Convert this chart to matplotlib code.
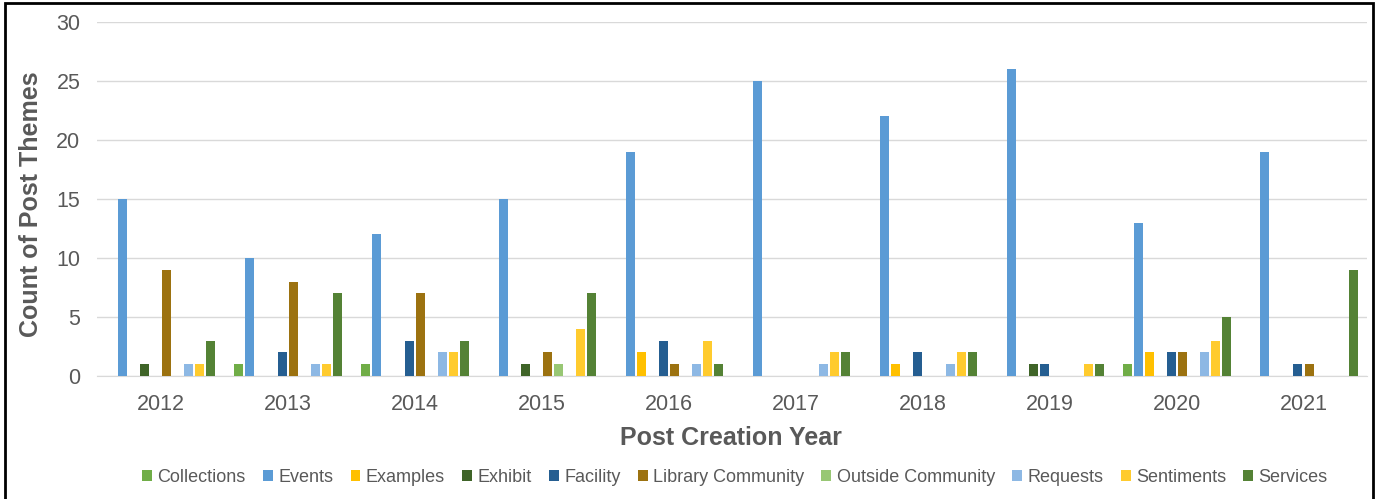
import matplotlib

matplotlib.use("Agg")
import matplotlib.pyplot as plt
import numpy as np
from matplotlib.patches import Rectangle

plt.rcParams["font.family"] = ["Liberation Sans", "DejaVu Sans"]

years = ["2012", "2013", "2014", "2015", "2016", "2017", "2018", "2019", "2020", "2021"]
themes = [
    "Collections", "Events", "Examples", "Exhibit", "Facility",
    "Library Community", "Outside Community", "Requests", "Sentiments", "Services",
]

collections = [0, 1, 1, 0, 0, 0, 0, 0, 1, 0]
events = [15, 10, 12, 15, 19, 25, 22, 26, 13, 19]
examples = [0, 0, 0, 0, 2, 0, 1, 0, 2, 0]
exhibit = [1, 0, 0, 1, 0, 0, 0, 1, 0, 0]
facility = [0, 2, 3, 0, 3, 0, 2, 1, 2, 1]
library_community = [9, 8, 7, 2, 1, 0, 0, 0, 2, 1]
outside_community = [0, 0, 0, 1, 0, 0, 0, 0, 0, 0]
requests = [1, 1, 2, 0, 1, 1, 1, 0, 2, 0]
sentiments = [1, 1, 2, 4, 3, 2, 2, 1, 3, 0]
services = [3, 7, 3, 7, 1, 2, 2, 1, 5, 9]

series = [collections, events, examples, exhibit, facility,
          library_community, outside_community, requests, sentiments, services]
colors = ["#70AD47", "#5B9BD5", "#FFC000", "#3F6428", "#255E91",
          "#9C7210", "#98C774", "#8DB8E4", "#FFCB2E", "#548235"]

fig = plt.figure(figsize=(13.8, 4.99), dpi=100)
ax = fig.add_axes([97 / 1380, 123 / 499, 1270 / 1380, 354 / 499])

x = np.arange(len(years))
slot = 11 / 127
bw = 9 / 127
for i, (vals, c) in enumerate(zip(series, colors)):
    ax.bar(x + (i - 4.5) * slot, vals, width=bw, color=c, label=themes[i], zorder=3)

ax.set_xlim(-0.5, len(years) - 0.5)
ax.set_ylim(0, 30)
ax.set_yticks(range(0, 31, 5))
ax.set_xticks(x)
ax.set_xticklabels(years)
ax.tick_params(axis="both", length=0, labelsize=15.5, colors="#595959")
ax.tick_params(axis="x", pad=13)
ax.tick_params(axis="y", pad=12)
ax.grid(axis="y", color="#D9D9D9", lw=1, zorder=0)
for s in ["top", "right", "left"]:
    ax.spines[s].set_visible(False)
ax.spines["bottom"].set_color("#D9D9D9")

fig.text(31 / 1380, 1 - 204 / 499, "Count of Post Themes", rotation=90,
         ha="center", va="center", fontsize=18, fontweight="bold", color="#595959")
fig.text(731 / 1380, 1 - 438 / 499, "Post Creation Year",
         ha="center", va="center", fontsize=18, fontweight="bold", color="#595959")

fig.legend(loc="center", bbox_to_anchor=(735 / 1380, 1 - 477 / 499), ncol=10,
           frameon=False, fontsize=13, handlelength=0.55, handleheight=0.55,
           handletextpad=0.3, columnspacing=0.95, labelcolor="#595959")

fig.patches.append(Rectangle((5 / 1380, -0.05), 1368 / 1380, 1.05 - 3 / 499,
                             transform=fig.transFigure, fill=False,
                             edgecolor="black", lw=2))

fig.savefig("out.png", dpi=100)
